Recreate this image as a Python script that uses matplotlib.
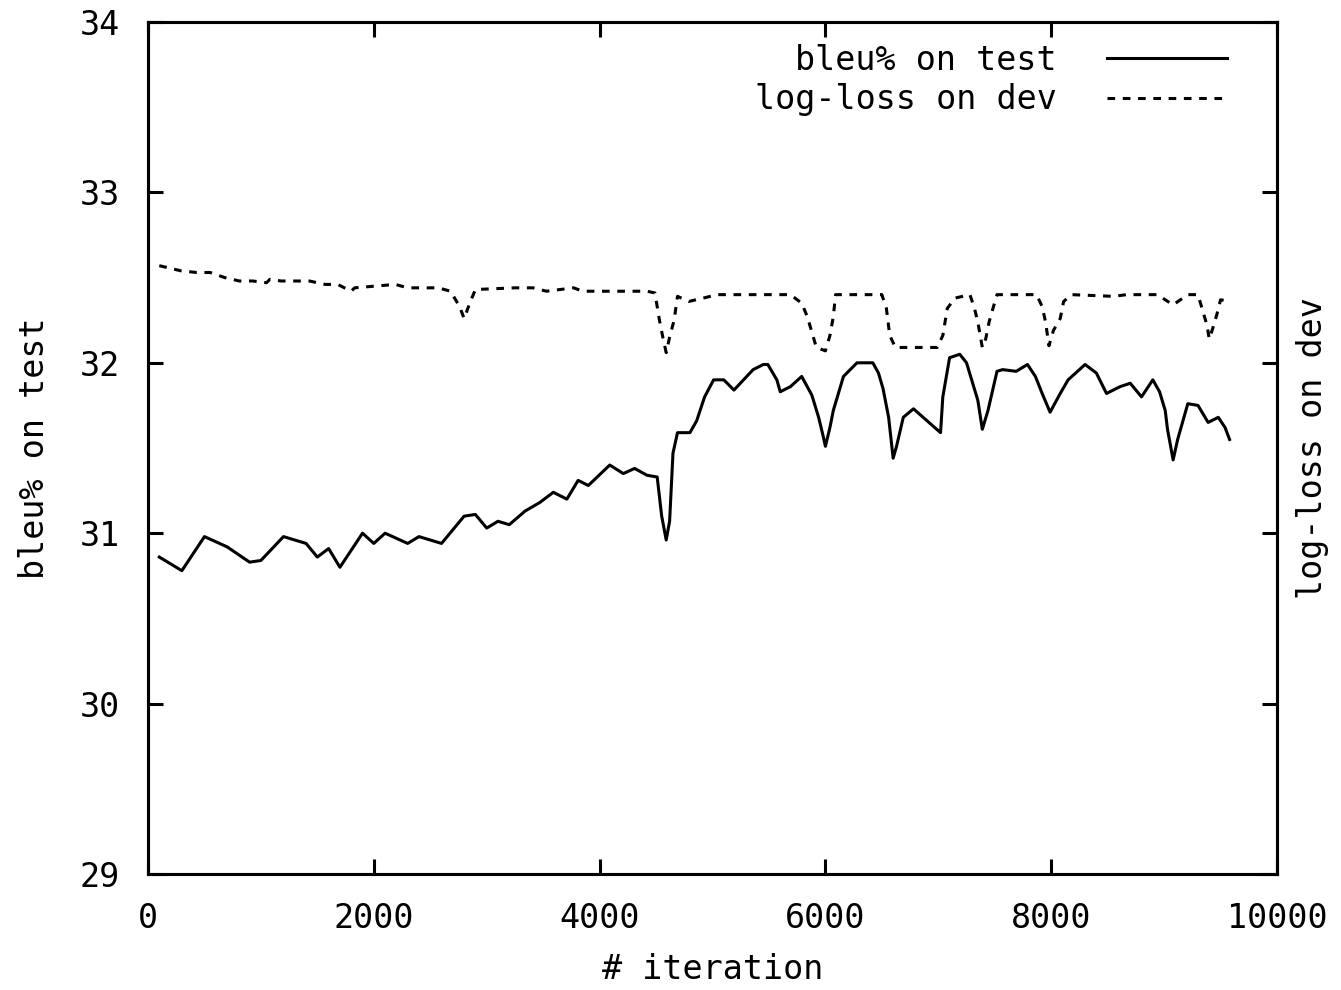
import matplotlib
matplotlib.use("Agg")
import matplotlib.pyplot as plt

# ---- data ----
bleu_iter = [100, 300, 500, 700, 900, 1000, 1200, 1400, 1500, 1600, 1700, 1900, 2000,
             2100, 2300, 2400, 2600, 2800, 2900, 3000, 3100, 3200, 3340, 3470, 3590,
             3710, 3810, 3900, 4090, 4210, 4310, 4420, 4510, 4550, 4590, 4620, 4650,
             4690, 4800, 4860, 4930, 5010, 5100, 5190, 5360, 5450, 5490, 5570, 5600,
             5690, 5790, 5880, 5940, 5980, 6000, 6040, 6070, 6160, 6280, 6390, 6420,
             6470, 6510, 6560, 6600, 6630, 6690, 6780, 6900, 7020, 7040, 7100, 7190,
             7250, 7350, 7390, 7440, 7520, 7570, 7690, 7790, 7860, 7920, 7990, 8080,
             8150, 8300, 8400, 8490, 8610, 8700, 8800, 8900, 8960, 9010, 9030, 9080,
             9120, 9210, 9300, 9390, 9480, 9540, 9580]
bleu_test = [30.86, 30.78, 30.98, 30.92, 30.83, 30.84, 30.98, 30.94, 30.86, 30.91, 30.80,
             31.00, 30.94, 31.00, 30.94, 30.98, 30.94, 31.10, 31.11, 31.03, 31.07, 31.05,
             31.13, 31.18, 31.24, 31.20, 31.31, 31.28, 31.40, 31.35, 31.38, 31.34, 31.33,
             31.10, 30.96, 31.07, 31.47, 31.59, 31.59, 31.66, 31.80, 31.90, 31.90, 31.84,
             31.96, 31.99, 31.99, 31.90, 31.83, 31.86, 31.92, 31.81, 31.68, 31.57, 31.51,
             31.62, 31.72, 31.92, 32.00, 32.00, 32.00, 31.94, 31.85, 31.68, 31.44, 31.51,
             31.68, 31.73, 31.66, 31.59, 31.80, 32.03, 32.05, 32.00, 31.78, 31.61, 31.72,
             31.95, 31.96, 31.95, 31.99, 31.92, 31.82, 31.71, 31.82, 31.90, 31.99, 31.94,
             31.82, 31.86, 31.88, 31.80, 31.90, 31.83, 31.72, 31.61, 31.43, 31.55, 31.76,
             31.75, 31.65, 31.68, 31.62, 31.55]

loss_iter = [100, 290, 430, 550, 680, 810, 930, 1050, 1080, 1180, 1430, 1570, 1680, 1800,
             1830, 2190, 2300, 2570, 2680, 2760, 2800, 2850, 2900, 3250, 3410, 3530, 3770,
             3850, 4420, 4490, 4530, 4560, 4590, 4620, 4660, 4690, 4790, 4920, 5040, 5690,
             5790, 5840, 5880, 5920, 6000, 6040, 6070, 6090, 6500, 6540, 6570, 6620, 6990,
             7040, 7080, 7150, 7280, 7320, 7350, 7390, 7420, 7450, 7480, 7520, 7870, 7920,
             7950, 7980, 8020, 8080, 8110, 8180, 8550, 8670, 8940, 9080, 9210, 9300, 9340,
             9380, 9400, 9430, 9470, 9500, 9580]
loss_dev = [32.57, 32.54, 32.53, 32.53, 32.50, 32.48, 32.48, 32.47, 32.49, 32.48, 32.48,
            32.46, 32.46, 32.42, 32.44, 32.46, 32.44, 32.44, 32.42, 32.33, 32.26, 32.35,
            32.43, 32.44, 32.44, 32.42, 32.44, 32.42, 32.42, 32.41, 32.25, 32.15, 32.06,
            32.15, 32.25, 32.39, 32.36, 32.38, 32.40, 32.40, 32.35, 32.27, 32.18, 32.09,
            32.07, 32.16, 32.27, 32.40, 32.40, 32.32, 32.16, 32.09, 32.09, 32.16, 32.32,
            32.38, 32.40, 32.32, 32.24, 32.09, 32.14, 32.24, 32.31, 32.40, 32.40, 32.33,
            32.24, 32.10, 32.19, 32.26, 32.36, 32.40, 32.39, 32.40, 32.40, 32.34, 32.40,
            32.40, 32.31, 32.22, 32.14, 32.20, 32.29, 32.37, 32.36]

x_ticks = [0, 2000, 4000, 6000, 8000, 10000]
y_ticks = [29, 30, 31, 32, 33, 34]

FONT = "DejaVu Sans Mono"
FS = 24
LW = 2.2

fig = plt.figure(figsize=(13.41, 9.90), dpi=100)
ax = fig.add_axes([148/1341, 1 - 874/990, (1277 - 148)/1341, (874 - 22)/990])
ax2 = ax.twinx()

l1, = ax.plot(bleu_iter, bleu_test, color="black", lw=LW, label="bleu% on test")
l2, = ax2.plot(loss_iter, loss_dev, color="black", lw=LW, dashes=(2.5, 2.5),
               label="log-loss on dev")

for a in (ax, ax2):
    a.set_xlim(0, 10000)
    a.set_ylim(29, 34)
    for s in a.spines.values():
        s.set_linewidth(LW)

ax.set_xticks(x_ticks)
ax.set_yticks(y_ticks)
ax2.set_yticks(y_ticks)
ax.tick_params(direction="in", length=11, width=LW, top=True, right=False,
               labelsize=FS, pad=20)
ax2.tick_params(direction="in", length=11, width=LW, labelright=False)
for lab in ax.get_xticklabels() + ax.get_yticklabels():
    lab.set_family(FONT)

ax.set_xlabel("# iteration", fontsize=FS, family=FONT, labelpad=13)
ax.set_ylabel("bleu% on test", fontsize=FS, family=FONT, labelpad=21)
ax2.set_ylabel("log-loss on dev", fontsize=FS, family=FONT, rotation=90, labelpad=14)

leg = ax2.legend(handles=[l1, l2], loc="upper right", frameon=False, markerfirst=False,
                 prop={"family": FONT, "size": FS}, handlelength=3.6,
                 bbox_to_anchor=(0.975, 1.0), borderaxespad=0.25, labelspacing=0.2,
                 handletextpad=1.5)

fig.savefig("out.png", dpi=100)
